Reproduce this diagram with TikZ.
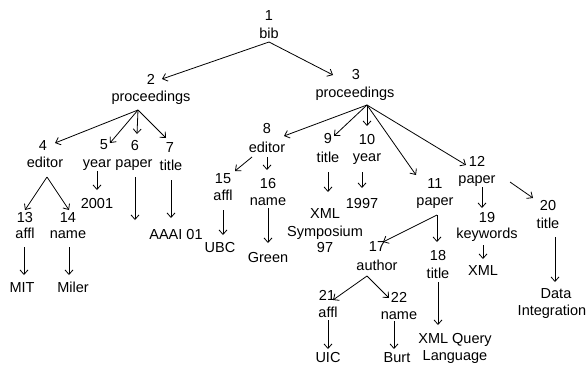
\documentclass[tikz,border=0pt]{standalone}
\usepackage{fontspec}
\setmainfont{Liberation Sans}
\usetikzlibrary{arrows.meta}
\begin{document}
\begin{tikzpicture}[x=1pt,y=-1pt,
  lbl/.style={anchor=base,inner sep=0pt,font=\fontsize{14.5}{17.5}\selectfont},
  arr/.style={-{Straight Barb[length=4.5pt,width=8pt]},line width=0.8pt}]
\useasboundingbox (0,0) rectangle (586,367);
% ---- labelled nodes (number over name) ----
\node[lbl] (n1a) at (269,20) {1};   \node[lbl] (n1b) at (269,38) {bib};
\node[lbl] (n2a) at (151,84) {2};   \node[lbl] (n2b) at (151,101) {proceedings};
\node[lbl] (n3a) at (356,79) {3};   \node[lbl] (n3b) at (355,97) {proceedings};
\node[lbl] (n4a) at (43,150) {4};   \node[lbl] (n4b) at (45,167) {editor};
\node[lbl] (n5a) at (104,149) {5};  \node[lbl] (n5b) at (97,167) {year};
\node[lbl] (n6a) at (135,150) {6};  \node[lbl] (n6b) at (134,167) {paper};
\node[lbl] (n7a) at (170,152) {7};  \node[lbl] (n7b) at (171,170) {title};
\node[lbl] (n8a) at (267,133) {8};  \node[lbl] (n8b) at (267,152) {editor};
\node[lbl] (n9a) at (328,143) {9};  \node[lbl] (n9b) at (328,162) {title};
\node[lbl] (n10a) at (367,144) {10}; \node[lbl] (n10b) at (367,161) {year};
\node[lbl] (n11a) at (435,188) {11}; \node[lbl] (n11b) at (435,205) {paper};
\node[lbl] (n12a) at (477,166) {12}; \node[lbl] (n12b) at (477,183) {paper};
\node[lbl] (n13a) at (25,222) {13};  \node[lbl] (n13b) at (25,238) {affl};
\node[lbl] (n14a) at (68,222) {14};  \node[lbl] (n14b) at (68,238) {name};
\node[lbl] (n15a) at (223,183) {15}; \node[lbl] (n15b) at (223,200) {affl};
\node[lbl] (n16a) at (268,188) {16}; \node[lbl] (n16b) at (268,205) {name};
\node[lbl] (n17a) at (377,251) {17}; \node[lbl] (n17b) at (377,270) {author};
\node[lbl] (n18a) at (438,260) {18}; \node[lbl] (n18b) at (438,278) {title};
\node[lbl] (n19a) at (487,222) {19}; \node[lbl] (n19b) at (487,238) {keywords};
\node[lbl] (n20a) at (548,210) {20}; \node[lbl] (n20b) at (548,228) {title};
\node[lbl] (n21a) at (327,300) {21}; \node[lbl] (n21b) at (328,317) {affl};
\node[lbl] (n22a) at (399,302) {22}; \node[lbl] (n22b) at (399,319) {name};
% ---- leaf values ----
\node[lbl] (v2001) at (97,208) {2001};
\node[lbl] (vAAAI) at (176,239) {AAAI 01};
\node[lbl] (vMIT) at (22,292) {MIT};
\node[lbl] (vMiler) at (73,292) {Miler};
\node[lbl] (vUBC) at (220,252) {UBC};
\node[lbl] (vGreen) at (268,262) {Green};
\node[lbl] (vXa) at (325,218) {XML};
\node[lbl] (vXb) at (325,236) {Symposium};
\node[lbl] (vXc) at (325,252) {97};
\node[lbl] (v1997) at (362,208) {1997};
\node[lbl] (vQa) at (455,343) {XML Query};
\node[lbl] (vQb) at (455,360) {Language};
\node[lbl] (vXML) at (483,275) {XML};
\node[lbl] (vDa) at (556,298) {Data};
\node[lbl] (vDb) at (552,315) {Integration};
\node[lbl] (vUIC) at (328,362.5) {UIC};
\node[lbl] (vBurt) at (397,362.5) {Burt};
% ---- connector end points ----
\coordinate (s1) at (269,42);
\coordinate (t2) at (162,79);
\coordinate (t3) at (333,75);
\coordinate (s2) at (138,110);
\coordinate (t4) at (55,143);
\coordinate (t5) at (110,143);
\coordinate (t6) at (137,134);
\coordinate (t7) at (166,138);
\coordinate (s3) at (367,105);
\coordinate (t8) at (284,136);
\coordinate (t9) at (334,136);
\coordinate (t10) at (367,126);
\coordinate (t11) at (416,175);
\coordinate (t12) at (466,165);
\coordinate (s4) at (47,177);
\coordinate (t13) at (25,210);
\coordinate (t14) at (69,210);
\coordinate (s5) at (97,171);  \coordinate (e5) at (97,190);
\coordinate (s6) at (135,177); \coordinate (e6) at (135,220);
\coordinate (s7) at (171,180); \coordinate (e7) at (171,218);
\coordinate (s13) at (24,247); \coordinate (e13) at (24,275);
\coordinate (s14) at (69,247); \coordinate (e14) at (69,275);
\coordinate (s8a) at (252,157); \coordinate (t15) at (235,171);
\coordinate (s8b) at (267,157); \coordinate (t16) at (267,170);
\coordinate (s15) at (223,210); \coordinate (e15) at (223,235);
\coordinate (s16) at (268,208); \coordinate (e16) at (268,243);
\coordinate (s9) at (328,172);  \coordinate (e9) at (328,192);
\coordinate (s10) at (362,172); \coordinate (e10) at (362,188);
\coordinate (s11) at (437,215);
\coordinate (t17) at (383,242);
\coordinate (t18) at (437,242);
\coordinate (s12a) at (482,187); \coordinate (t19) at (482,208);
\coordinate (s12b) at (510,182); \coordinate (t20) at (533,198);
\coordinate (s17) at (367,276);
\coordinate (t21) at (333,300);
\coordinate (t22) at (389,298);
\coordinate (s18) at (438,282); \coordinate (e18) at (438,325);
\coordinate (s19) at (483,245); \coordinate (e19) at (483,259);
\coordinate (s20) at (555,237); \coordinate (e20) at (555,282);
\coordinate (s21) at (328,320); \coordinate (e21) at (328,349);
\coordinate (s22) at (394,321); \coordinate (e22) at (394,349);
% ---- connectors ----
\draw[arr] (s1) -- (t2);
\draw[arr] (s1) -- (t3);
\draw[arr] (s2) -- (t4);
\draw[arr] (s2) -- (t5);
\draw[arr] (s2) -- (t6);
\draw[arr] (s2) -- (t7);
\draw[arr] (s3) -- (t8);
\draw[arr] (s3) -- (t9);
\draw[arr] (s3) -- (t10);
\draw[arr] (s3) -- (t11);
\draw[arr] (s3) -- (t12);
\draw[arr] (s4) -- (t13);
\draw[arr] (s4) -- (t14);
\draw[arr] (s5) -- (e5);
\draw[arr] (s6) -- (e6);
\draw[arr] (s7) -- (e7);
\draw[arr] (s13) -- (e13);
\draw[arr] (s14) -- (e14);
\draw[arr] (s8a) -- (t15);
\draw[arr] (s8b) -- (t16);
\draw[arr] (s15) -- (e15);
\draw[arr] (s16) -- (e16);
\draw[arr] (s9) -- (e9);
\draw[arr] (s10) -- (e10);
\draw[arr] (s11) -- (t17);
\draw[arr] (s11) -- (t18);
\draw[arr] (s12a) -- (t19);
\draw[arr] (s12b) -- (t20);
\draw[arr] (s17) -- (t21);
\draw[arr] (s17) -- (t22);
\draw[arr] (s18) -- (e18);
\draw[arr] (s19) -- (e19);
\draw[arr] (s20) -- (e20);
\draw[arr] (s21) -- (e21);
\draw[arr] (s22) -- (e22);
\end{tikzpicture}
\end{document}
